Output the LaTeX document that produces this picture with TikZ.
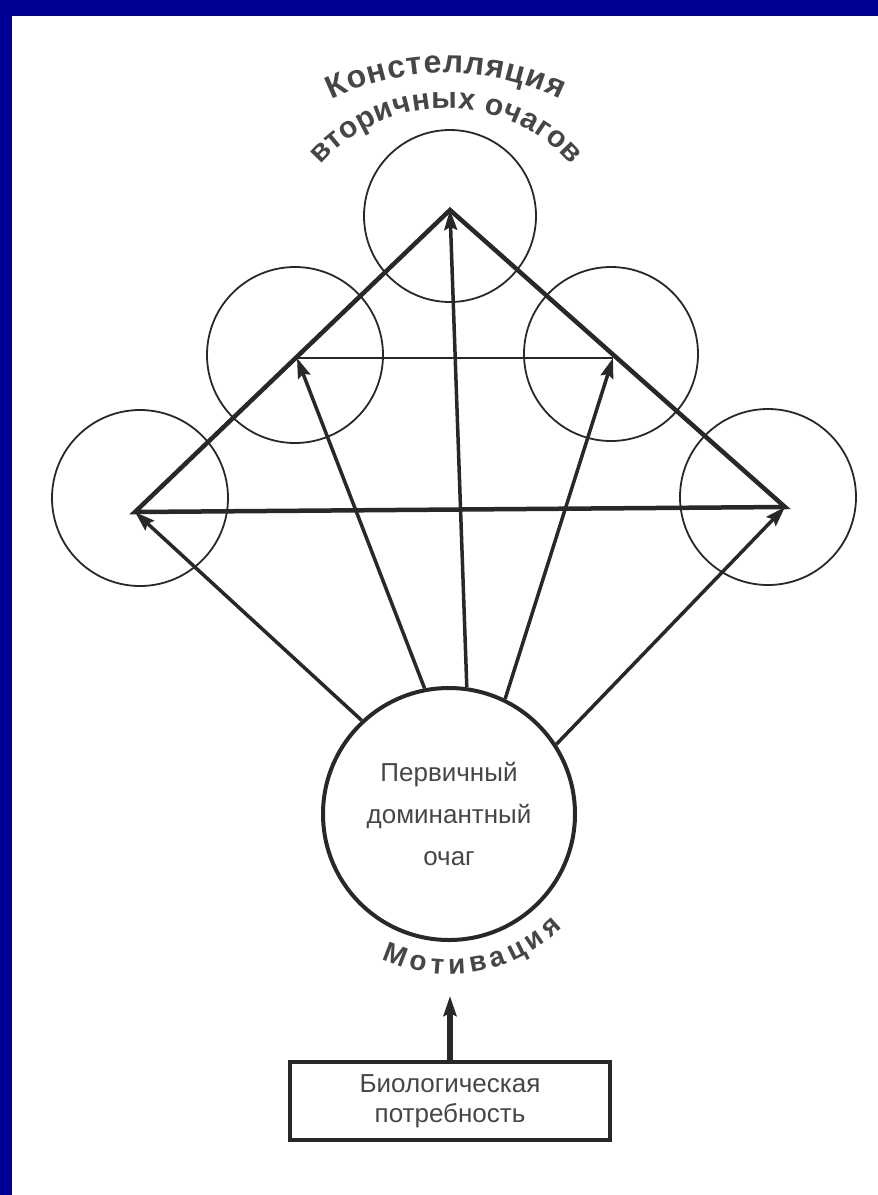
\documentclass[tikz,border=0pt]{standalone}
\usepackage{fontspec}
\setmainfont{Liberation Sans}
\usetikzlibrary{arrows.meta, decorations.text}
\definecolor{frameblue}{RGB}{0,0,150}
\definecolor{ink}{RGB}{40,40,40}
\definecolor{inktext}{RGB}{70,70,70}

\begin{document}
\begin{tikzpicture}[x=1pt, y=1pt, >={Stealth[length=20pt, width=13pt, inset=3pt]},
    focus/.style={circle, draw=ink, line width=1.8pt, minimum size=#1, inner sep=0pt},
    push/.style={->, draw=ink, line width=3.5pt}]
  \useasboundingbox (0,0) rectangle (878,-1195);
  \fill[frameblue] (0,0) rectangle (878,-16);
  \fill[frameblue] (0,0) rectangle (12,-1195);

  % secondary foci
  \node[focus=172pt] (ctop) at (450,-216) {};
  \node[focus=176pt] (cul) at (295,-355) {};
  \node[focus=174pt] (cur) at (611,-354) {};
  \node[focus=176pt] (cll) at (140,-498) {};
  \node[focus=176pt] (clr) at (768,-497) {};

  \coordinate (apex) at (450,-210);
  \coordinate (lc) at (135,-512);
  \coordinate (rc) at (785,-507);
  \coordinate (il) at (297,-358);
  \coordinate (ir) at (613,-358);
  \draw[ink, line width=4.5pt, line join=miter] (lc) -- (apex) -- (rc) -- cycle;
  \draw[ink, line width=2.5pt] (il) -- (ir);

  % primary focus
  \node[circle, draw=ink, line width=4pt, minimum size=252pt, align=center,
        text=inktext, font=\fontsize{26}{42}\selectfont] (main) at (449,-814)
        {Первичный\\доминантный\\очаг};

  \draw[push] (main.133) -- (lc);
  \draw[push] (main.101) -- (il);
  \draw[push] (main.82) -- (apex);
  \draw[push] (main.64) -- (ir);
  \draw[push] (main.33) -- (rc);

  \node[draw=ink, line width=4pt, minimum width=320pt, minimum height=78pt, align=center,
        text=inktext, font=\fontsize{26}{30}\selectfont] (need) at (450,-1101)
        {Биологическая\\потребность};
  \coordinate (tip) at (450,-996);
  \draw[push, line width=6pt] (need.north) -- (tip);

  % curved labels
  \path[decorate, decoration={text along path, text color=inktext, text align={fit to path},
        text={|\fontsize{32}{34}\selectfont\bfseries|Констелляция}}]
    (446,-333) ++(116:260) arc[start angle=116, end angle=64, radius=260];
  \path[decorate, decoration={text along path, text color=inktext, text align={fit to path},
        text={|\fontsize{30}{32}\selectfont\bfseries|вторичных очагов}}]
    (446,-274) ++(139:166) arc[start angle=139, end angle=41, radius=166];
  \path[decorate, decoration={text along path, text color=inktext, text align={fit to path},
        text={|\fontsize{28}{30}\selectfont\bfseries|Мотивация}}]
    (449,-814) ++(245:160) arc[start angle=245, end angle=315, radius=160];
\end{tikzpicture}
\end{document}
